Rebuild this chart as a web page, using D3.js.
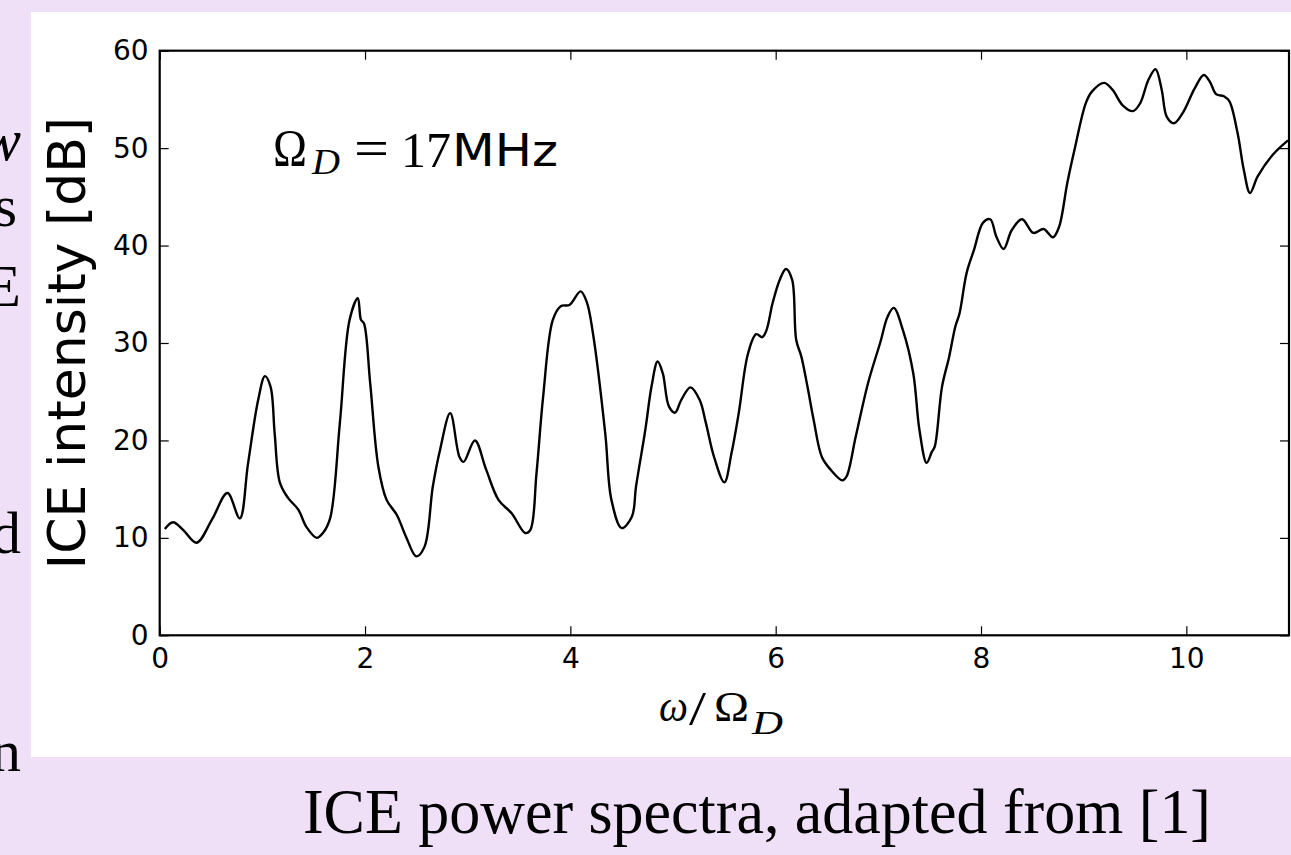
<!DOCTYPE html>
<html lang="en">
<head>
    <meta charset="UTF-8">
    <script src="https://cdnjs.cloudflare.com/ajax/libs/d3/7.8.5/d3.min.js" type="text/JavaScript"></script>
    <style>
        body { margin: 0; background: #efe0f8; }
        svg { display: block; }
    </style>
</head>
<body>
<div id="viz">
    <svg style="width:1291px;height:855px;"></svg>
</div>
<script>
    // spectrum: omega / Omega_D  vs  ICE intensity [dB]
    const omega = [0.05, 0.13, 0.23, 0.36, 0.51, 0.66, 0.78, 0.86, 0.96, 1.025, 1.08, 1.12, 1.17, 1.25, 1.35,
        1.43, 1.53, 1.59, 1.66, 1.755, 1.85, 1.93, 1.96, 1.99, 2.05, 2.13, 2.21, 2.31, 2.40, 2.50,
        2.58, 2.66, 2.73, 2.83, 2.92, 2.96, 3.07, 3.18, 3.30, 3.43, 3.56, 3.61, 3.67, 3.735, 3.83,
        3.91, 3.99, 4.10, 4.16, 4.22, 4.34, 4.40, 4.50, 4.60, 4.64, 4.72, 4.74, 4.79, 4.85, 4.90,
        4.96, 5.02, 5.08, 5.17, 5.26, 5.32, 5.40, 5.50, 5.57, 5.64, 5.73, 5.81, 5.87, 5.91, 5.97,
        6.04, 6.10, 6.16, 6.20, 6.25, 6.31, 6.37, 6.45, 6.535, 6.65, 6.69, 6.78, 6.90, 7.02, 7.09,
        7.15, 7.24, 7.34, 7.40, 7.47, 7.52, 7.55, 7.62, 7.69, 7.75, 7.79, 7.86, 7.93, 8.02, 8.09,
        8.15, 8.22, 8.30, 8.40, 8.51, 8.61, 8.70, 8.76, 8.84, 8.91, 9.02, 9.08, 9.20, 9.28, 9.38,
        9.48, 9.55, 9.63, 9.70, 9.76, 9.81, 9.88, 9.97, 10.08, 10.17, 10.23, 10.29, 10.37, 10.42, 10.50,
        10.56, 10.62, 10.695, 10.84, 10.99];
    const intensity = [10.9, 11.6, 10.8, 9.5, 11.9, 14.6, 12.0, 17.6, 24.2, 26.6, 25.5, 20.7, 15.7, 14.1, 12.9,
        11.1, 10.0, 10.5, 12.0, 21.8, 32.4, 34.6, 32.4, 32.0, 25.9, 17.3, 13.9, 12.35, 10.1, 8.1,
        9.1, 15.25, 19.0, 22.8, 18.3, 17.8, 20.0, 17.0, 13.9, 12.5, 10.5, 10.8, 16.6, 24.5, 32.4,
        33.8, 33.9, 35.3, 34.2, 31.0, 20.7, 13.9, 11.0, 12.2, 15.3, 20.4, 21.8, 25.5, 28.1, 26.9,
        23.5, 22.85, 24.15, 25.45, 24.15, 21.8, 18.3, 15.7, 18.7, 22.8, 28.9, 30.9, 30.6, 31.3, 34.1,
        36.5, 37.6, 36.5, 30.3, 28.6, 25.5, 22.1, 18.3, 17.0, 15.9, 16.3, 20.4, 25.9, 30.1, 32.7,
        33.6, 31.3, 26.9, 21.1, 17.7, 18.8, 19.4, 25.5, 28.6, 31.7, 33.0, 37.2, 39.5, 42.35, 42.7,
        40.9, 39.65, 41.6, 42.7, 41.3, 41.7, 40.85, 41.9, 46.4, 49.8, 54.6, 55.8, 56.7, 56.0, 54.4,
        53.8, 54.6, 57.0, 58.1, 56.0, 53.2, 52.55, 53.7, 56.1, 57.5, 56.8, 55.55, 55.3, 54.8, 51.5,
        47.75, 45.4, 47.1, 49.3, 50.8];

    const xTicks = [0, 2, 4, 6, 8, 10];
    const yTicks = [0, 10, 20, 30, 40, 50, 60];

    // cut-off slide text at the left edge
    const sideLetters = [
        {t: 'w', x: 21, y: 160, italic: true},
        {t: 's', x: 17, y: 226, italic: false},
        {t: 'E', x: 21, y: 306, italic: false},
        {t: 'd', x: 21, y: 553, italic: false},
        {t: 'n', x: 21, y: 771, italic: false}
    ];

    const svg = d3.select('svg');

    svg.append('rect').attr('width', 1291).attr('height', 855).attr('fill', '#efe0f8');

    svg.selectAll('text.side').data(sideLetters).enter()
        .append('text')
        .attr('class', 'side')
        .attr('x', d => d.x).attr('y', d => d.y)
        .attr('text-anchor', 'end')
        .style('font-family', '"Liberation Serif", serif')
        .style('font-size', '60px')
        .style('font-style', d => d.italic ? 'italic' : 'normal')
        .text(d => d.t);

    svg.append('rect')
        .attr('x', 31).attr('y', 12).attr('width', 1260).attr('height', 745)
        .attr('fill', '#ffffff');

    const pLeft = 159.7, pRight = 1289, pTop = 50.7, pBottom = 635.3;
    const xScale = d3.scaleLinear().domain([0, 11]).range([pLeft, pRight]);
    const yScale = d3.scaleLinear().domain([0, 60]).range([pBottom, pTop]);

    const tickFont = g => g.selectAll('text')
        .style('font-family', '"DejaVu Sans", sans-serif')
        .style('font-size', '28px')
        .attr('fill', '#000');

    svg.append('g').attr('transform', `translate(0,${pBottom})`)
        .call(d3.axisBottom(xScale).tickValues(xTicks).tickFormat(d3.format('d'))
            .tickSizeInner(-9).tickSizeOuter(0).tickPadding(13))
        .call(g => g.select('.domain').remove())
        .call(tickFont);

    svg.append('g').attr('transform', `translate(${pLeft},0)`)
        .call(d3.axisLeft(yScale).tickValues(yTicks).tickFormat(d3.format('d'))
            .tickSizeInner(-9).tickSizeOuter(0).tickPadding(11))
        .call(g => g.select('.domain').remove())
        .call(tickFont);

    svg.append('g').attr('transform', `translate(0,${pTop})`)
        .call(d3.axisTop(xScale).tickValues(xTicks).tickFormat('').tickSizeInner(-9).tickSizeOuter(0))
        .call(g => g.select('.domain').remove());

    svg.append('g').attr('transform', `translate(${pRight},0)`)
        .call(d3.axisRight(yScale).tickValues(yTicks).tickFormat('').tickSizeInner(-9).tickSizeOuter(0))
        .call(g => g.select('.domain').remove());

    svg.selectAll('.tick line').attr('stroke', '#000').attr('stroke-width', 1.2);

    const line = d3.line()
        .x((d, i) => xScale(omega[i]))
        .y(d => yScale(d))
        .curve(d3.curveCatmullRom.alpha(0.5));

    svg.append('path')
        .datum(intensity)
        .attr('fill', 'none')
        .attr('stroke', '#000')
        .attr('stroke-width', 2.4)
        .attr('stroke-linejoin', 'round')
        .attr('d', line);

    // frame
    svg.append('rect')
        .attr('x', pLeft).attr('y', pTop)
        .attr('width', pRight - pLeft).attr('height', pBottom - pTop)
        .attr('fill', 'none').attr('stroke', '#000').attr('stroke-width', 2.2);

    // y label
    svg.append('text')
        .attr('transform', `translate(85,${(pTop + pBottom) / 2}) rotate(-90)`)
        .attr('text-anchor', 'middle')
        .style('font-family', '"DejaVu Sans", sans-serif')
        .style('font-size', '52px')
        .text('ICE intensity [dB]');

    const serif = '"Liberation Serif", "DejaVu Serif", serif';
    const piece = (x, y, size, str, opts = {}) => svg.append('text')
        .attr('x', x).attr('y', y)
        .attr('textLength', opts.len || null)
        .attr('lengthAdjust', 'spacingAndGlyphs')
        .style('font-family', opts.family || serif)
        .style('font-style', opts.italic ? 'italic' : 'normal')
        .style('font-size', size + 'px')
        .text(str);

    // x label  omega / Omega_D
    piece(659, 721, 44, 'ω', {italic: true, len: 29});
    piece(689, 725, 48, '/', {len: 17});
    piece(714, 721, 43, 'Ω', {len: 35});
    piece(752, 734, 33, 'D', {italic: true, len: 31});

    // annotation
    piece(273, 166, 52, 'Ω', {len: 34});
    piece(312, 174, 35, 'D', {italic: true, len: 28});
    piece(354, 166, 52, '=', {len: 35});
    piece(401, 167, 50, '17');
    piece(452, 166, 45, 'MHz', {family: '"DejaVu Sans", sans-serif', len: 106});

    // caption
    piece(303, 833, 63, 'ICE power spectra, adapted from [1]', {family: '"Liberation Serif", serif', len: 908});
</script>
</body>
</html>
